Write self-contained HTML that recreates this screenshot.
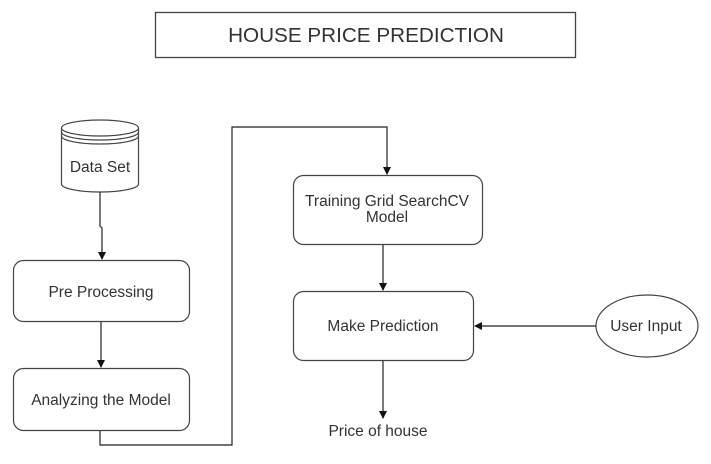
<!DOCTYPE html>
<html><head><meta charset="utf-8"><style>
html,body{margin:0;padding:0;background:#fff;}
svg{display:block;}
text{font-family:"Liberation Sans",Arial,sans-serif;fill:#333;}
</style></head><body>
<svg width="711" height="464" viewBox="0 0 711 464" xmlns="http://www.w3.org/2000/svg">
<defs><marker id="a" markerWidth="8" markerHeight="8" refX="7" refY="4" orient="auto" markerUnits="userSpaceOnUse"><path d="M0,0 L8,4 L0,8 Z" fill="#111"/></marker></defs>
<rect x="155.5" y="12.5" width="420" height="45" fill="#fff" stroke="#444" stroke-width="1.3"/>
<text x="366" y="42" font-size="20.7" text-anchor="middle">HOUSE PRICE PREDICTION</text>
<g fill="#fff" stroke="#444" stroke-width="1.2">
<path d="M61.5,128 L61.5,184 A38.5,8 0 0 0 138.5,184 L138.5,128"/>
<ellipse cx="100" cy="128" rx="38.5" ry="8"/>
<path d="M61.5,132 A38.5,8 0 0 0 138.5,132" fill="none"/>
<path d="M61.5,136 A38.5,8 0 0 0 138.5,136" fill="none"/>
<rect x="13.5" y="260.5" width="176" height="61" rx="10"/>
<rect x="13.5" y="368.5" width="176" height="62" rx="10"/>
<rect x="293.5" y="175.5" width="189" height="69" rx="10"/>
<rect x="293.5" y="291.5" width="180" height="69" rx="10"/>
<ellipse cx="647" cy="326" rx="51" ry="31"/>
</g>
<text x="100" y="172" font-size="15.5" text-anchor="middle">Data Set</text>
<text x="101" y="297" font-size="15.5" text-anchor="middle">Pre Processing</text>
<text x="101" y="405" font-size="15.5" text-anchor="middle">Analyzing the Model</text>
<text x="387" y="206" font-size="15.5" text-anchor="middle">Training Grid SearchCV</text>
<text x="387" y="222" font-size="15.5" text-anchor="middle">Model</text>
<text x="383" y="331" font-size="15.5" text-anchor="middle">Make Prediction</text>
<text x="646" y="331" font-size="15.5" text-anchor="middle">User Input</text>
<text x="378" y="436" font-size="15.5" text-anchor="middle">Price of house</text>
<g stroke="#222" stroke-width="1.2" fill="none">
<path d="M100,192 L100,226 L102,228 L102,259" marker-end="url(#a)"/>
<path d="M101,322 L101,367" marker-end="url(#a)"/>
<path d="M100,431 L100,445 L232,445 L232,127 L387,127 L387,174" marker-end="url(#a)"/>
<path d="M383,245 L383,290" marker-end="url(#a)"/>
<path d="M596,326 L475,326" marker-end="url(#a)"/>
<path d="M383,361 L383,418" marker-end="url(#a)"/>
</g>
</svg>
</body></html>
